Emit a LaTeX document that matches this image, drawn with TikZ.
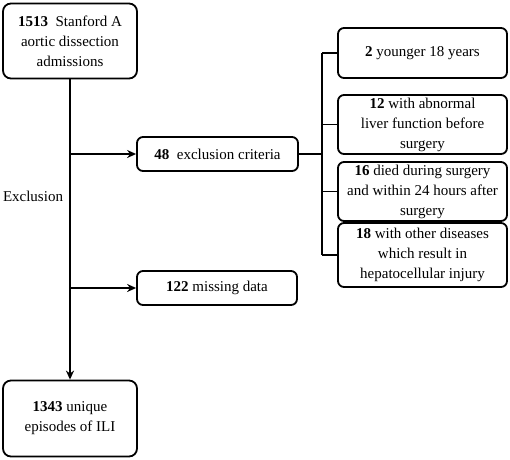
\documentclass[tikz,border=0pt]{standalone}
\usepackage{fontspec}
\setmainfont{Liberation Serif}
\usetikzlibrary{arrows.meta}
\begin{document}
\begin{tikzpicture}[x=1pt,y=-1pt,
  box/.style={draw,line width=1.8pt,rounded corners=8pt,align=center,inner sep=2pt,font=\fontsize{15}{20}\selectfont},
  sbox/.style={box,rounded corners=6pt},
  conn/.style={line width=1.6pt},
  arr/.style={conn,-{Stealth[length=9pt,width=8pt]}}]
\useasboundingbox (0,0) rectangle (510,459);
\node[box,minimum width=134pt,minimum height=75pt] (top) at (70,41) {\textbf{1513} ~Stanford A\\aortic dissection\\admissions};
\node[box,minimum width=134pt,minimum height=76pt] (bot) at (70,418.5) {\textbf{1343} unique\\episodes of ILI};
\node[sbox,minimum width=161pt,minimum height=34pt] (excl) at (217.5,154) {\textbf{48} ~exclusion criteria};
\node[sbox,minimum width=160pt,minimum height=34pt] (miss) at (217,288) {\textbf{122} missing data};
\node[font=\fontsize{15}{18}\selectfont,inner sep=0pt] (lab) at (33,196) {Exclusion};
\node[sbox,minimum width=169pt,minimum height=50pt] (r1) at (422.5,53) {\textbf{2} younger 18 years};
\node[sbox,minimum width=169pt,minimum height=59pt] (r2) at (422.5,124.5) {\textbf{12} with abnormal\\liver function before\\surgery};
\node[sbox,minimum width=169pt,minimum height=59pt] (r3) at (422.5,191.5) {\textbf{16} died during surgery\\and within 24 hours after\\surgery};
\node[sbox,minimum width=169pt,minimum height=64pt] (r4) at (422.5,255) {\textbf{18} with other diseases\\which result in\\hepatocellular injury};
\coordinate (sp1) at (70,154);
\coordinate (sp2) at (70,288);
\coordinate (br) at (322,154);
\draw[arr] (top.south) -- (bot.north);
\draw[arr] (sp1) -- (excl.west);
\draw[arr] (sp2) -- (miss.west);
\draw[conn] (excl.east) -- (br);
\draw[conn] (br |- r1.west) -- (br |- r4.west);
\draw[conn] (br |- r1.west) -- (r1.west);
\draw[conn] (br |- r2.west) -- (r2.west);
\draw[conn] (br |- r3.west) -- (r3.west);
\draw[conn] (br |- r4.west) -- (r4.west);
\end{tikzpicture}
\end{document}
